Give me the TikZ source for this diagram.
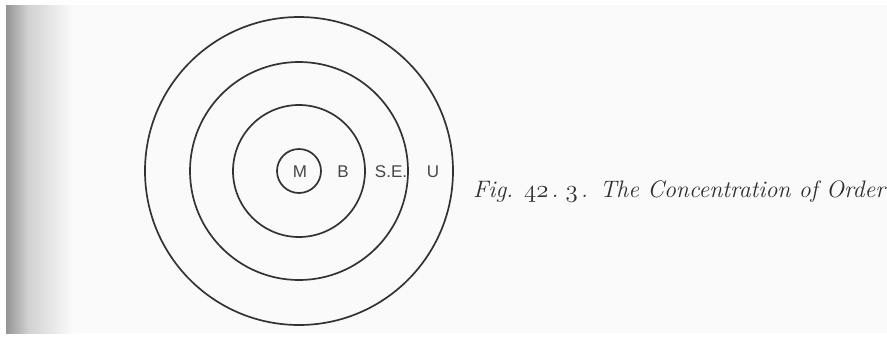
\documentclass[tikz,border=0pt]{standalone}
\usepackage{fontspec}
\newfontfamily\labfont{Liberation Sans}
\begin{document}
\begin{tikzpicture}[x=1pt,y=-1pt,
  ring/.style={draw=black!80,line width=1.7pt},
  lab/.style={font=\labfont\fontsize{17}{19}\selectfont,text=black!72,inner sep=0pt,anchor=base},
  captext/.style={font=\fontsize{23.8}{27}\selectfont\itshape,text=black!82,inner sep=0pt,anchor=base west}]
\useasboundingbox (0,0) rectangle (887,338);
\fill[white] (0,0) rectangle (887,338);
\fill[black!2] (6,5) rectangle (887,333);
\shade[left color=black!42,right color=black!18] (6,5) rectangle (28,333);
\shade[left color=black!18,right color=black!2] (28,5) rectangle (72,333);
\coordinate (c) at (299,171);
\draw[ring] (c) circle[radius=154];
\draw[ring] (c) circle[radius=109];
\draw[ring] (c) circle[radius=66];
\draw[ring] (c) circle[radius=22];
\node[lab] (m) at (300,177) {M};
\node[lab] (b) at (343,177) {B};
\node[lab] (se) at (391,177) {S.E.};
\node[lab] (u) at (433,177) {U};
\node[captext] (caption) at (473,197) {Fig.\hspace{0.45em}\legacyoldstylenums{42}\kern3pt.\kern7pt\legacyoldstylenums{3}\kern3pt.\hspace{0.5em}The Concentration of Order};
\end{tikzpicture}
\end{document}
